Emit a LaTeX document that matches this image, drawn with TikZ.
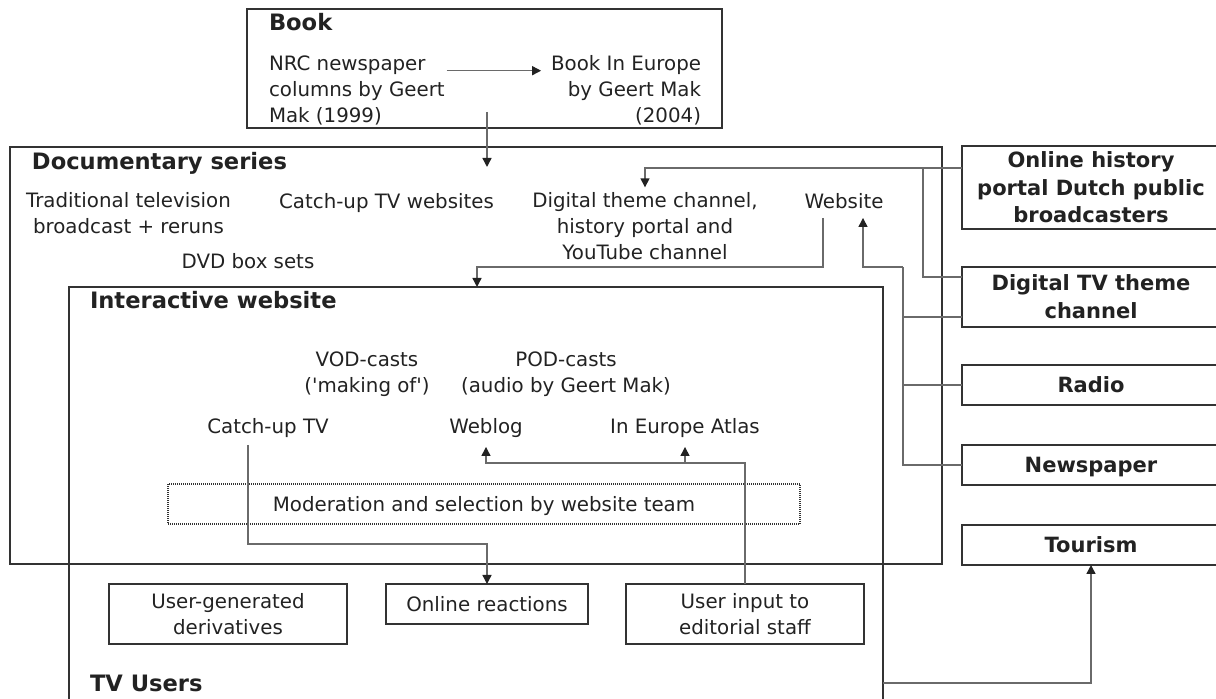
\documentclass[tikz,border=0pt]{standalone}
\usepackage{fontspec}
\setmainfont{DejaVu Sans}
\usetikzlibrary{arrows.meta,calc}
\definecolor{ink}{HTML}{222222}
\definecolor{framecol}{HTML}{333333}
\definecolor{wirecol}{HTML}{6A6A6A}
% strut that puts the visual middle of a text line at the node centre
\newcommand\lnstrut{\rule[-0.29em]{0pt}{1.31em}}

\begin{document}
\begin{tikzpicture}[x=0.5pt,y=-0.5pt,
  every node/.style={inner sep=0pt, outer sep=0pt, text=ink},
  body/.style={font=\fontsize{9.9}{13}\selectfont, align=center},
  title/.style={font=\fontsize{11.3}{14.8}\selectfont\bfseries, anchor=west},
  boxline/.style={draw=framecol, line width=1pt},
  pane/.style 2 args={boxline, minimum width=#1*0.5pt, minimum height=#2*0.5pt},
  outlet/.style={pane={258}{#1}, font=\fontsize{10.5}{13.8}\selectfont\bfseries, align=center},
  dotbox/.style={draw=framecol, line width=0.6pt, dash pattern=on 0.5pt off 0.5pt},
  wire/.style={draw=wirecol, line width=0.7pt},
  tip/.style={-{Triangle[length=4.5pt,width=4.5pt,color=ink]}}
]
\useasboundingbox (0,0) rectangle (1216,699);
\clip (0,0) rectangle (1216,699);

% ---------------- Book ----------------
\node[pane={475}{119}] (book) at (484.5,68.5) {};
\node[title] (booktitle) at (269,22) {\lnstrut Book};
\node[body, align=left, anchor=west] (nrc) at (269,89.7)
  {\lnstrut NRC newspaper\\\lnstrut columns by Geert\\\lnstrut Mak (1999)};
\node[body, align=right, anchor=east] (ine) at (701,89.7)
  {\lnstrut Book In Europe\\\lnstrut by Geert Mak\\\lnstrut (2004)};

% ---------------- Documentary series ----------------
\node[pane={932}{417}] (doc) at (476,355.5) {};
\node[title] (doctitle) at (32,161) {\lnstrut Documentary series};
\node[body] (trad) at (128.5,213.5)
  {\lnstrut Traditional television\\\lnstrut broadcast + reruns};
\node[body] (cuw) at (386.5,201) {\lnstrut Catch-up TV websites};
\node[body] (dvd) at (248,261) {\lnstrut DVD box sets};
\node[body] (dtc) at (645,226.3)
  {\lnstrut Digital theme channel,\\\lnstrut history portal and\\\lnstrut YouTube channel};
\node[body] (web) at (844,201) {\lnstrut Website};

% ---------------- Interactive website / TV users ----------------
\node[pane={814}{416}] (iw) at (476,495) {};
\node[title] (iwtitle) at (90,300) {\lnstrut Interactive website};
\node[title] (tvu) at (90,683) {\lnstrut TV Users};
\node[body] (vod) at (367,372.5)
  {\lnstrut VOD-casts\\\lnstrut (\textquotesingle making of\textquotesingle)};
\node[body] (pod) at (566,372.5)
  {\lnstrut POD-casts\\\lnstrut (audio by Geert Mak)};
\node[body] (ctv) at (268,426) {\lnstrut Catch-up TV};
\node[body] (wbl) at (486,426) {\lnstrut Weblog};
\node[body] (atl) at (685,426) {\lnstrut In Europe Atlas};
\node[body, dotbox, minimum width=316pt, minimum height=20pt] (mod) at (484,504)
  {\lnstrut Moderation and selection by website team};

\node[body, pane={238}{60}] (ugd) at (228,614)
  {\lnstrut User-generated\\\lnstrut derivatives};
\node[body, pane={202}{40}] (onr) at (487,604) {\lnstrut Online reactions};
\node[body, pane={238}{60}] (uie) at (745,614)
  {\lnstrut User input to\\\lnstrut editorial staff};

% ---------------- Outlets ----------------
\node[outlet={79}] (ohp) at (1091,187.5)
  {\lnstrut Online history\\\lnstrut portal Dutch public\\\lnstrut broadcasters};
\node[outlet={60}] (dtv) at (1091,297)
  {\lnstrut Digital TV theme\\\lnstrut channel};
\node[outlet={40}] (radio) at (1091,385) {\lnstrut Radio};
\node[outlet={40}] (news) at (1091,465) {\lnstrut Newspaper};
\node[outlet={40}] (tour) at (1091,545) {\lnstrut Tourism};

% ---------------- Connectors ----------------
\draw[wire,tip] ($(nrc.east)+(2,-19)$) -- ($(ine.west)+(-10,-19)$);
\coordinate (bookout) at ($(book.south)+(2.5,-16)$);
\coordinate (docin) at (bookout |- 0,167);
\draw[wire,tip] (bookout) -- (docin);

\draw[wire,tip] (ohp.west |- 0,168) -| (dtc.north);
\coordinate (join) at (923,168);
\draw[wire] (dtv.west |- 0,277) -| (join);

\coordinate (trunk) at (903,267);
\draw[wire] (dtv.west |- 0,317) -| (trunk);
\draw[wire] (radio.west) -| (trunk);
\draw[wire] (news.west) -| (trunk);
\draw[wire,tip] (trunk) -| ($(web.south)+(19,4)$);

\draw[wire,tip] ($(web.south)+(-21,4)$) |- ($(iw.north)+(1,-20)$) -- ($(iw.north)+(1,0)$);

\draw[wire,tip] ($(ctv.south)+(-20,6)$) |- ($(onr.north)+(0,-40)$) -- (onr.north);

\draw[wire,tip] (uie.north) |- ($(wbl.south)+(0,24)$) -- ($(wbl.south)+(0,8)$);
\draw[wire,tip] ($(atl.south)+(0,24)$) -- ($(atl.south)+(0,8)$);

\draw[wire,tip] (iw.east |- 0,683) -| (tour.south);
\end{tikzpicture}
\end{document}
